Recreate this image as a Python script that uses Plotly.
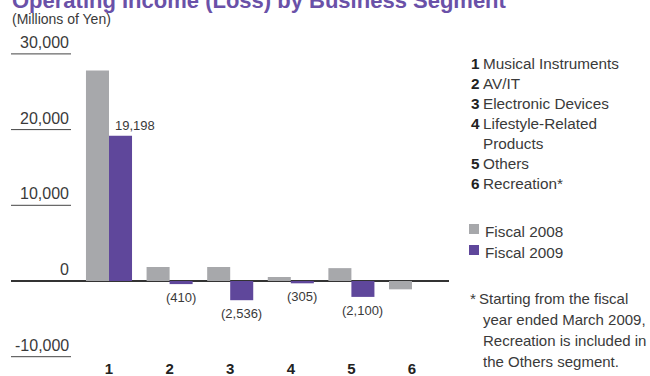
import plotly.graph_objects as go

# ---- data -------------------------------------------------------------
segments = ["1", "2", "3", "4", "5", "6"]
segment_names = [
    "Musical Instruments",
    "AV/IT",
    "Electronic Devices",
    "Lifestyle-Related",
    "Others",
    "Recreation*",
]
fiscal_2008 = [27800, 1850, 1850, 530, 1700, -1100]
fiscal_2009 = [19198, -410, -2536, -305, -2100, None]
series_names = ["Fiscal 2008", "Fiscal 2009"]
series_colors = ["#a7a8ab", "#5f479b"]
y_ticks = [-10000, 0, 10000, 20000, 30000]
y_tick_text = ["-10,000", "0", "10,000", "20,000", "30,000"]
footnote_lines = [
    "Starting from the fiscal",
    "year ended March 2009,",
    "Recreation is included in",
    "the Others segment.",
]

# ---- page geometry (pixels) --------------------------------------------
W, H = 650, 376
ML, MR, MT, MB = 11, 201, 43, 18
PW, PH = W - ML - MR, H - MT - MB
ZERO_PX = 281          # vertical pixel of the zero line
PX_PER_UNIT = 7.57 / 1000
CAT0_PX, CAT_STEP = 109, 60.6

y_top = (ZERO_PX - MT) / PX_PER_UNIT
y_bot = -(MT + PH - ZERO_PX) / PX_PER_UNIT
x_left = (ML - CAT0_PX) / CAT_STEP
x_right = (ML + PW - CAT0_PX) / CAT_STEP


def px_x(px):
    return (px - ML) / PW


def px_y(py):
    return (MT + PH - py) / PH


FONT = "Liberation Sans, Arial, sans-serif"
TEXT = "#3a3a3a"
KEY_SIZE = 15.3

fig = go.Figure()
for name, vals, col in zip(series_names, [fiscal_2008, fiscal_2009], series_colors):
    fig.add_trace(go.Bar(
        x=list(range(len(segments))), y=vals, name=name,
        marker=dict(color=col, line=dict(width=0)),
        showlegend=False, hoverinfo="skip",
    ))

annotations = []
shapes = []

# value labels for fiscal 2009
half_bar = (1 - 0.24) / 4
for i, v in enumerate(fiscal_2009):
    if v is None:
        continue
    if v >= 0:
        annotations.append(dict(
            x=i, y=v, xref="x", yref="y", text=f"{v:,}",
            xanchor="left", yanchor="bottom", xshift=4, yshift=1,
            showarrow=False, font=dict(size=13, color=TEXT, family=FONT)))
    else:
        annotations.append(dict(
            x=i + half_bar, y=v, xref="x", yref="y", text=f"({-v:,})",
            xanchor="center", yanchor="top", yshift=-4,
            showarrow=False, font=dict(size=13, color=TEXT, family=FONT)))

# short value-axis rules and their labels
for t, lab in zip(y_ticks, y_tick_text):
    if t != 0:
        shapes.append(dict(type="line", xref="paper", yref="y",
                           x0=px_x(11), x1=px_x(71), y0=t, y1=t,
                           line=dict(color="#444444", width=1)))
    annotations.append(dict(
        x=px_x(71), y=t, xref="paper", yref="y", text=lab,
        xanchor="right", yanchor="bottom", yshift=1,
        showarrow=False, font=dict(size=16, color=TEXT, family=FONT)))

# title and unit
annotations.append(dict(
    x=px_x(10), y=px_y(0), xref="paper", yref="paper",
    text="<b>Operating Income (Loss) by Business Segment</b>",
    xanchor="left", yanchor="middle", showarrow=False,
    font=dict(size=22, color="#6a51a8", family=FONT)))
annotations.append(dict(
    x=px_x(10), y=px_y(19), xref="paper", yref="paper",
    text="(Millions of Yen)", xanchor="left", yanchor="middle",
    showarrow=False, font=dict(size=14, color=TEXT, family=FONT)))

# segment key
key_rows = []
for num, nm in zip(segments, segment_names):
    key_rows.append((num, nm))
    if nm == "Lifestyle-Related":
        key_rows.append(("", "Products"))
row_y = 63
for num, nm in key_rows:
    if num:
        annotations.append(dict(
            x=px_x(469), y=px_y(row_y), xref="paper", yref="paper",
            text=f"<b>{num}</b>", xanchor="left", yanchor="middle",
            showarrow=False, font=dict(size=KEY_SIZE, color="#222222", family=FONT)))
    annotations.append(dict(
        x=px_x(481), y=px_y(row_y), xref="paper", yref="paper",
        text=nm, xanchor="left", yanchor="middle",
        showarrow=False, font=dict(size=KEY_SIZE, color=TEXT, family=FONT)))
    row_y += 20

# series key
for k, (name, col) in enumerate(zip(series_names, series_colors)):
    cy = 229 + 21 * k
    shapes.append(dict(type="rect", xref="paper", yref="paper",
                       x0=px_x(469), x1=px_x(479), y0=px_y(cy + 5), y1=px_y(cy - 5),
                       fillcolor=col, line=dict(width=0)))
    annotations.append(dict(
        x=px_x(483), y=px_y(cy + 2), xref="paper", yref="paper",
        text=name, xanchor="left", yanchor="middle",
        showarrow=False, font=dict(size=KEY_SIZE, color=TEXT, family=FONT)))

# footnote
for k, line in enumerate(footnote_lines):
    cy = 298 + 21 * k
    if k == 0:
        annotations.append(dict(
            x=px_x(468), y=px_y(cy), xref="paper", yref="paper",
            text="*", xanchor="left", yanchor="middle",
            showarrow=False, font=dict(size=KEY_SIZE, color=TEXT, family=FONT)))
    annotations.append(dict(
        x=px_x(477 if k == 0 else 481), y=px_y(cy), xref="paper", yref="paper",
        text=line, xanchor="left", yanchor="middle",
        showarrow=False, font=dict(size=15, color=TEXT, family=FONT)))

fig.update_layout(
    width=W, height=H,
    margin=dict(l=ML, r=MR, t=MT, b=MB, pad=0, autoexpand=False),
    paper_bgcolor="white", plot_bgcolor="white",
    barmode="group", bargap=0.24, bargroupgap=0,
    xaxis=dict(range=[x_left, x_right], tickmode="array",
               tickvals=list(range(len(segments))),
               ticktext=[f"<b>{s}</b>" for s in segments],
               showgrid=False, zeroline=False, showline=False, ticks="",
               tickfont=dict(size=15, color="#222222", family=FONT),
               ticklabelstandoff=0, automargin=False, fixedrange=True),
    yaxis=dict(range=[y_bot, y_top], showgrid=False, showticklabels=False,
               zeroline=True, zerolinecolor="#333333", zerolinewidth=2,
               showline=False, automargin=False, fixedrange=True),
    annotations=annotations, shapes=shapes,
    font=dict(family=FONT, color=TEXT),
)

fig.write_html("out.html", config={"displayModeBar": False})
